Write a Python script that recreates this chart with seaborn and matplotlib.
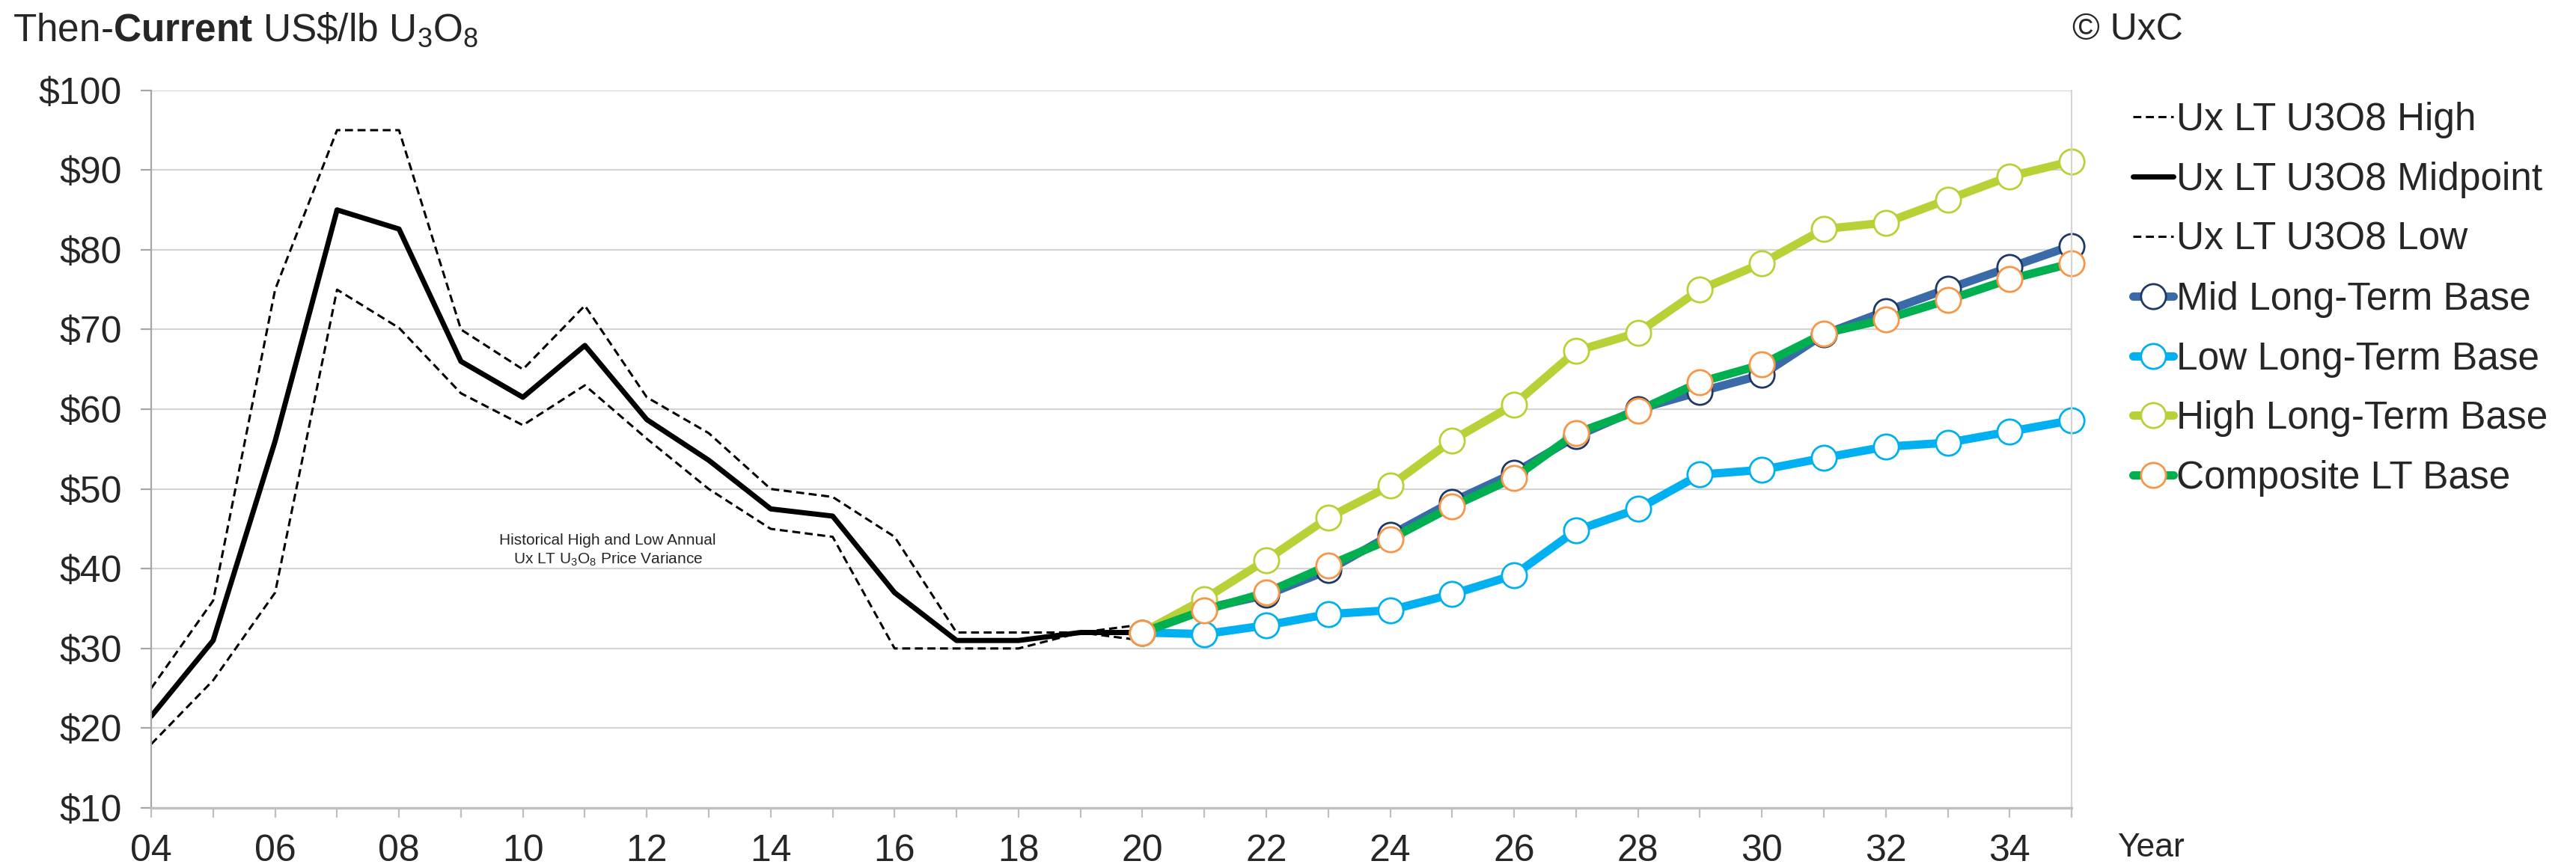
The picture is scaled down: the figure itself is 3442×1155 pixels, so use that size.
import pandas as pd
import seaborn as sns
import matplotlib.pyplot as plt
from matplotlib.ticker import FuncFormatter

# historical Ux LT U3O8 price band
hist_years = list(range(2004, 2021))
hist_high = [25, 36, 75, 95, 95, 70, 65, 73, 61.5, 57, 50, 49, 44, 32, 32, 32, 33]
hist_mid = [21.5, 31, 56, 85, 82.6, 66, 61.5, 68, 58.7, 53.6, 47.5, 46.6, 37, 31, 31, 32, 32]
hist_low = [18, 26, 37, 75, 70.2, 62, 58, 63, 56.3, 50, 45, 44, 30, 30, 30, 32, 31]

# long-term base forecasts
fc_years = list(range(2020, 2036))
mid_lt = [32, 35.0, 36.7, 39.8, 44.2, 48.4, 52.0, 56.6, 60.0, 62.2, 64.3, 69.4, 72.3, 75.1, 77.8, 80.5]
low_lt = [32, 31.8, 32.9, 34.3, 34.8, 36.8, 39.2, 44.8, 47.5, 51.8, 52.4, 53.9, 55.3, 55.8, 57.2, 58.6]
high_lt = [32, 36.2, 41.1, 46.4, 50.4, 56.1, 60.6, 67.3, 69.6, 75.0, 78.3, 82.6, 83.4, 86.3, 89.2, 91.1]
comp_lt = [32, 34.8, 37.0, 40.4, 43.7, 47.8, 51.4, 57.0, 59.8, 63.4, 65.6, 69.5, 71.3, 73.7, 76.3, 78.3]

df_hist = pd.DataFrame({'year': hist_years, 'high': hist_high, 'mid': hist_mid, 'low': hist_low})
df_fc = pd.DataFrame({'year': fc_years, 'mid': mid_lt, 'low': low_lt, 'high': high_lt, 'comp': comp_lt})

sns.set_style('white')
plt.rcParams['font.family'] = ['Liberation Sans', 'DejaVu Sans']
plt.rcParams['mathtext.fontset'] = 'custom'
plt.rcParams['mathtext.rm'] = 'Liberation Sans'
plt.rcParams['mathtext.it'] = 'Liberation Sans:italic'
plt.rcParams['mathtext.bf'] = 'Liberation Sans:bold'

fig = plt.figure(figsize=(17.21, 5.775), dpi=200)
ax = fig.add_axes([0.0587, 0.0649, 0.7455, 0.8306])

# historical lines
sns.lineplot(data=df_hist, x='year', y='high', color='black', linewidth=1.1,
             linestyle=(0, (3.5, 2)), label='Ux LT U3O8 High', ax=ax)
sns.lineplot(data=df_hist, x='year', y='mid', color='black', linewidth=2.5,
             label='Ux LT U3O8 Midpoint', ax=ax)
sns.lineplot(data=df_hist, x='year', y='low', color='black', linewidth=1.1,
             linestyle=(0, (3.5, 2)), label='Ux LT U3O8 Low', ax=ax)

# forecasts
fc_styles = [
    ('mid', 'Mid Long-Term Base', '#3A6BA8', '#1F3864'),
    ('low', 'Low Long-Term Base', '#00B0F0', '#00B0F0'),
    ('high', 'High Long-Term Base', '#B9D136', '#B9D136'),
    ('comp', 'Composite LT Base', '#00B050', '#F79646'),
]
for col, lab, lc, ec in fc_styles:
    sns.lineplot(data=df_fc, x='year', y=col, color=lc, linewidth=4.0, marker='o',
                 markersize=12, markerfacecolor='white', markeredgecolor=ec,
                 markeredgewidth=1.0, label=lab, clip_on=False, ax=ax)

ax.set_xlim(2004, 2035)
ax.set_ylim(10, 100)
ax.set_xlabel('')
ax.set_ylabel('')

all_years = list(range(2004, 2036))
ax.set_xticks(all_years)
ax.set_xticklabels([f'{y % 100:02d}' if y % 2 == 0 and y < 2035 else '' for y in all_years])
ax.set_yticks(range(10, 101, 10))
ax.yaxis.set_major_formatter(FuncFormatter(lambda v, p: f'${v:.0f}'))
ax.tick_params(axis='y', length=5, width=0.8, color='#A6A6A6', labelsize=18, pad=9, left=True)
ax.tick_params(axis='x', length=4.7, width=0.8, color='#BFBFBF', labelsize=18, pad=8, bottom=True)

ax.grid(axis='y', color='#D4D4D4', linewidth=0.8)
ax.set_axisbelow(True)
ax.spines['top'].set_visible(False)
ax.spines['left'].set_color('#A6A6A6')
ax.spines['left'].set_linewidth(0.8)
ax.spines['right'].set_color('#D4D4D4')
ax.spines['right'].set_linewidth(0.8)
ax.spines['bottom'].set_color('#BFBFBF')
ax.spines['bottom'].set_linewidth(1.2)

ax.text(2011.37, 42.3, 'Historical High and Low Annual\nUx LT U$_3$O$_8$ Price Variance',
        ha='center', va='center', fontsize=7.5, linespacing=1.25)

handles, labels = ax.get_legend_handles_labels()
ax.legend(handles, labels, loc='upper left', bbox_to_anchor=(0.828, 0.882),
          bbox_transform=fig.transFigure, frameon=False, fontsize=18.5,
          handlelength=1.05, handletextpad=0.08, labelspacing=0.6,
          borderpad=0, borderaxespad=0)

fig.text(0.005, 0.965, r'Then-$\mathbf{Current}$ US\$/lb U$_3$O$_8$', fontsize=18.5,
         ha='left', va='center')
fig.text(0.826, 0.965, '© UxC', fontsize=18, ha='center', va='center')
fig.text(0.835, 0.019, 'Year', fontsize=16, ha='center', va='center')

fig.savefig('out.png', dpi=200)
